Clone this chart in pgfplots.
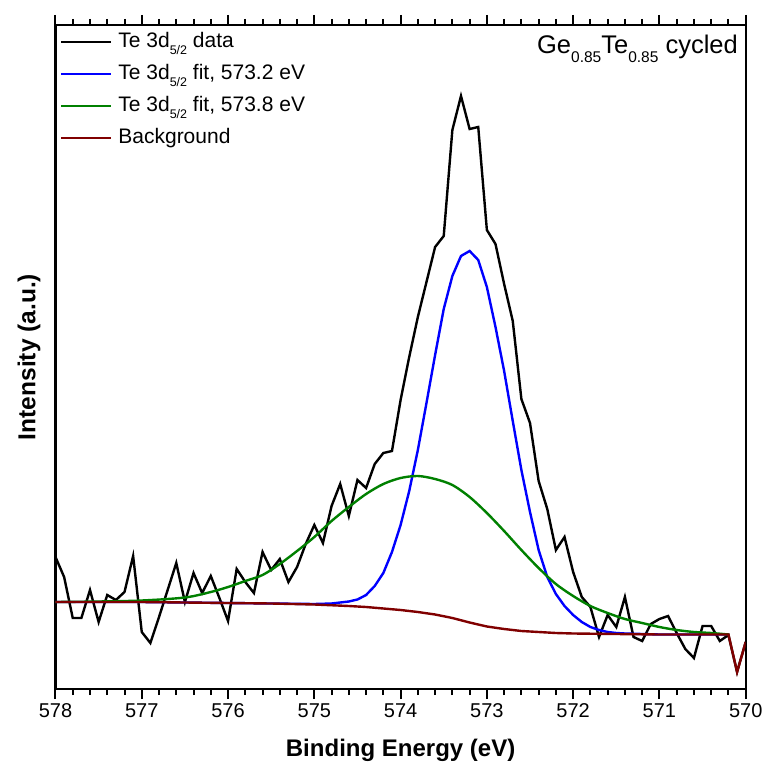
\documentclass[border=0pt]{standalone}
\usepackage{pgfplots}
\pgfplotsset{compat=1.18}
\usepackage{fontspec}
\setmainfont{Liberation Sans}
\definecolor{fitblue}{RGB}{0,0,255}
\definecolor{fitgreen}{RGB}{0,128,0}
\definecolor{bgred}{RGB}{128,0,0}
\newcommand{\lsub}[1]{\raisebox{-6.5pt}{\fontsize{12.5}{12.5}\selectfont #1}}
\newcommand{\asub}[1]{\raisebox{-9.4pt}{\fontsize{15.5}{15.5}\selectfont #1}}
\begin{document}
\begin{tikzpicture}
\begin{axis}[
  scale only axis, width=690.2pt, height=664pt,
  xmin=570, xmax=578, x dir=reverse, ymin=0, ymax=664,
  axis line style={line width=2.2pt},
  xtick={570,571,...,578}, minor x tick num=4, ytick=\empty,
  tick align=outside, xtick pos=both,
  major tick length=10pt, minor tick length=6pt,
  every tick/.append style={line width=2pt, black},
  /pgf/number format/assume math mode=true,
  xticklabel style={font=\fontsize{20}{20}\selectfont, anchor=base, yshift=-18pt},
  xlabel={Binding Energy (eV)}, ylabel={Intensity (a.u.)},
  xlabel style={font=\bfseries\fontsize{24}{24}\selectfont, at={(axis description cs:0.5,0)}, anchor=base, yshift=-67.7pt},
  ylabel style={font=\bfseries\fontsize{24.5}{24.5}\selectfont, at={(axis description cs:-0.029,0.5)}, anchor=base},
  legend cell align=left,
  legend style={at={(axis description cs:0,1)}, anchor=north west, xshift=4.5pt, draw=none, fill=none, inner sep=0pt, outer sep=0pt, font=\fontsize{21}{21}\selectfont, row sep=0pt, column sep=6pt, nodes={inner sep=0pt, text height=23pt, text depth=9pt}},
  legend image code/.code={\draw[#1, line width=2.4pt] (0pt,-1pt) -- (50pt,-1pt);},
]
\addplot[black, line width=2.4pt] coordinates {
(578.0,132)(577.9,112)(577.8,71)(577.7,71)(577.6,99)(577.5,67)(577.4,94)(577.3,89)(577.2,97)(577.1,133)
(577.0,57)(576.9,46)(576.8,72)(576.7,99)(576.6,126)(576.5,87)(576.4,116)(576.3,96)(576.2,113)(576.1,91)
(576.0,68)(575.9,120)(575.8,107)(575.7,96)(575.6,137)(575.5,119)(575.4,130)(575.3,107)(575.2,122)(575.1,145)
(575.0,164)(574.9,146)(574.8,183)(574.7,205)(574.6,173)(574.5,209)(574.4,201)(574.3,225)(574.2,236)(574.1,238)
(574.0,289)(573.9,332)(573.8,372)(573.7,407)(573.6,442)(573.5,453)(573.4,559)(573.3,593)(573.2,560)(573.1,562)
(573.0,459)(572.9,445)(572.8,405)(572.7,368)(572.6,290)(572.5,266)(572.4,208)(572.3,180)(572.2,139)(572.1,152)
(572.0,117)(571.9,92)(571.8,82)(571.7,52)(571.6,74)(571.5,62)(571.4,92)(571.3,52)(571.2,48)(571.1,65)
(571.0,70)(570.9,73)(570.8,56)(570.7,40)(570.6,31)(570.5,63)(570.4,63)(570.3,48)(570.2,54)(570.1,17)(570.0,47)
};
\addlegendentry{Te 3d\lsub{5/2} data}
\addplot[fitblue, line width=2.4pt] coordinates {
(578,87)(577.5,87)(577,87)(576.5,86.5)(576,86)(575.5,85.5)(575,85)(574.8,85.5)(574.7,86.5)(574.6,87.5)
(574.5,89.5)(574.4,94)(574.3,103)(574.2,116)(574.1,137)(574,164)(573.9,198)(573.8,239)(573.7,286)(573.6,334)
(573.5,380)(573.4,413)(573.3,433)(573.2,438)(573.1,429)(573,402)(572.9,362)(572.8,318)(572.7,268)(572.6,219)
(572.5,177)(572.4,139)(572.3,112)(572.2,95)(572.1,83)(572,74)(571.9,67)(571.8,62)(571.7,59)(571.6,57)
(571.5,56)(571.4,55.5)(571.2,55)(571,54.5)(570.5,54.5)(570.2,54.5)
};
\addlegendentry{Te 3d\lsub{5/2} fit, 573.2 eV}
\addplot[fitgreen, line width=2.4pt, smooth] coordinates {
(578,87)(577.5,87.5)(577,88.5)(576.5,91.5)(576.2,97)(576,102)(575.8,108)(575.6,114)(575.4,125)(575.2,138)
(575,152)(574.8,168)(574.6,182)(574.4,195)(574.2,205)(574,211)(573.8,213)(573.6,210)(573.4,204)(573.2,192)
(573,176)(572.8,158)(572.6,139)(572.4,121)(572.2,105)(572,93)(571.8,83)(571.6,76)(571.4,70)(571.2,66)
(571,62)(570.8,59)(570.6,57)(570.4,56)(570.2,54.5)
};
\addlegendentry{Te 3d\lsub{5/2} fit, 573.8 eV}
\addplot[bgred, line width=2.4pt] coordinates {
(578.0,87)(577.5,87)(577.0,87)(576.5,86.5)(576.0,86)(575.5,85.5)(575.0,84.5)(574.6,83)(574.4,82)(574.2,80.5)
(574.0,79)(573.8,77)(573.6,74.5)(573.4,71)(573.2,66.5)(573.0,62.5)(572.8,60)(572.6,58)(572.4,57)(572.2,56)
(572.0,55.5)(571.5,55)(571.0,54.5)(570.5,54.5)(570.2,54.5)(570.1,17)(570.0,47)
};
\addlegendentry{Background}
\node[anchor=base east, inner sep=0pt, xshift=-7.7pt, yshift=-28.3pt, font=\fontsize{25.5}{25.5}\selectfont] at (rel axis cs:1,1) {Ge\asub{0.85}Te\asub{0.85} cycled};
\end{axis}
\pgfresetboundingbox
\path[use as bounding box] ([xshift=-55.5pt,yshift=-77pt]current axis.south west) rectangle ([xshift=21.3pt,yshift=25pt]current axis.north east);
\end{tikzpicture}
\end{document}
